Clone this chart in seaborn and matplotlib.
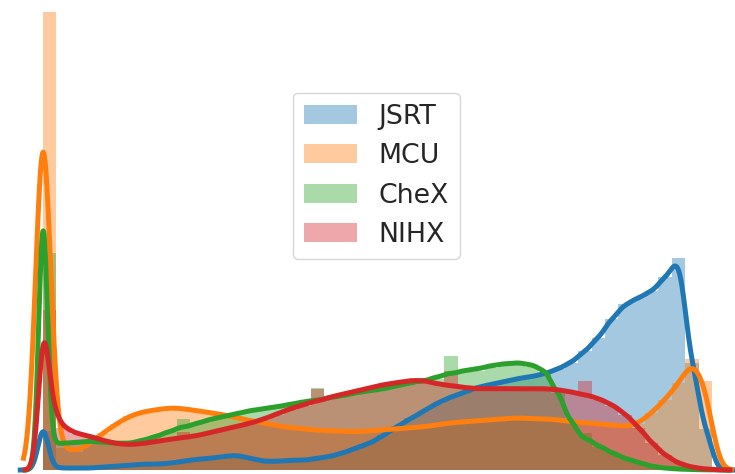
import numpy as np
import matplotlib
matplotlib.use("Agg")
import matplotlib.pyplot as plt
import seaborn as sns

# Datasets, their colours and the bit depth the images were stored at
datasets = ["JSRT", "MCU", "CheX", "NIHX"]
palette = ["#1f77b4", "#ff7f0e", "#2ca02c", "#d62728"]
bit_depth = [12, 12, 8, 8]

# Relative amount of pure black pixels (gray level 0) in each dataset
black_level = [190, 2225, 1020, 480]

# Mean relative frequency per gray level inside each of the 50 intensity bins
jsrt = [3, 2, 2, 2, 3, 4, 5, 6, 6, 7,
        9, 11, 12, 14, 15, 12, 9, 9, 10, 10,
        12, 14, 18, 23, 28, 36, 45, 53, 61, 69,
        75, 80, 85, 88, 91, 94, 96, 99, 104, 111,
        122, 136, 155, 170, 177, 184, 198, 218, 110, 42]
mcu = [20, 22, 18, 26, 37, 46, 54, 58, 60, 62,
       61, 59, 57, 55, 52, 49, 47, 44, 42, 41,
       39.5, 39, 38.5, 38, 39, 40, 41, 42, 43, 45,
       47, 48, 49, 50, 51, 52, 51, 51, 50, 48,
       47, 46, 45, 43, 46, 57, 70, 86, 110, 88]
chex = [27, 28, 29, 30, 29, 28, 28, 31, 35, 40,
        45, 49, 53, 56, 59, 62, 64, 66, 68.5, 71,
        73, 76, 78, 81, 83, 85, 88, 91, 93, 97,
        101, 104, 106, 109, 111, 112, 110, 104, 82, 52,
        33, 25, 18, 12, 8, 4, 2, 1, 0.5, 0.2]
nihx = [65, 42, 36, 33, 29, 26, 25, 26, 28, 30,
        32, 34, 37, 40, 43, 46, 50, 55, 60, 64,
        68, 72, 75, 78, 81, 84, 86, 88, 88, 85,
        83, 81, 80, 80, 80, 80, 80, 80, 79, 77,
        74, 70, 64, 55, 42, 27, 15, 7, 3, 1]
frequencies = [jsrt, mcu, chex, nihx]

# Kernel width of each density curve, in gray levels
kde_sigma = [2.0, 2.9, 1.7, 2.0]

# 50 equal bins over the 0-255 intensity range
edges = np.round(np.linspace(0, 255, 51), 6)
n_bins = len(edges) - 1

fig = plt.figure(figsize=(7.35, 4.74), dpi=100)
ax = fig.add_axes([0, 0, 1, 1])

for name, color, bits, zero, freq, sigma in zip(datasets, palette, bit_depth,
                                                black_level, frequencies,
                                                kde_sigma):
    # every representable gray level, weighted by the frequency of its bin
    levels = np.linspace(0, 255, 2 ** bits)
    step = levels[1] - levels[0]
    bin_idx = np.clip(np.searchsorted(edges, levels, side="right") - 1,
                      0, n_bins - 1)
    weights = np.asarray(freq, dtype=float)[bin_idx] * step
    weights[0] = zero

    sns.histplot(x=levels, weights=weights, bins=edges.tolist(),
                 stat="density", element="step", fill=True, color=color,
                 alpha=0.4, linewidth=0, label=name, ax=ax)

    spread = np.sqrt(np.cov(levels, aweights=weights))
    sns.kdeplot(x=levels, weights=weights, bw_method=sigma / spread,
                gridsize=2000, color=color, linewidth=3.6, ax=ax)

ax.set_xlim(-16.39, 263.77)
ax.set_ylim(-4 / 14800, 470 / 14800)
ax.set_axis_off()

ax.legend(loc="center", bbox_to_anchor=(0.512, 0.629), fontsize=19.3,
          labelcolor="#262626")

fig.savefig("out.png", dpi=100)
